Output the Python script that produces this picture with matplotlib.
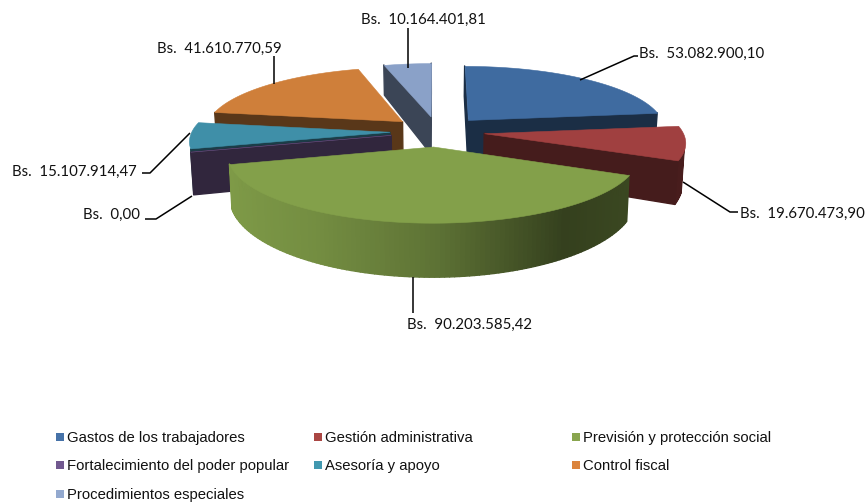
import numpy as np
import matplotlib
matplotlib.use("Agg")
import matplotlib.pyplot as plt
from matplotlib.collections import PolyCollection
from matplotlib.colors import to_rgb
from matplotlib.patches import Rectangle

categories = ["Gastos de los trabajadores", "Gestión administrativa",
              "Previsión y protección social", "Fortalecimiento del poder popular",
              "Asesoría y apoyo", "Control fiscal", "Procedimientos especiales"]
values = [53082900.10, 19670473.90, 90203585.42, 0.00,
          15107914.47, 41610770.59, 10164401.81]
top_colors = ["#3F6BA0", "#A04040", "#83A04A", "#71588F", "#3F8FA8", "#CF7F3A", "#8AA1C8"]
legend_colors = ["#4672A8", "#AA4643", "#89A54E", "#71588F", "#4198AF", "#DB843D", "#93A9CF"]
label_anchor = [(639, 53.5, "left"), (740, 213.5, "left"), (407, 324.5, "left"), (140, 214.5, "right"),
                (137, 171.5, "right"), (282, 48.5, "right"), (486, 19.5, "right")]
leader_paths = [[(580, 80), (634, 56), (638, 56)],
                [(683, 182), (730, 212), (738, 212)],
                [(413, 277), (413, 313)],
                [(192, 196), (156, 219), (145, 219)],
                [(190, 133), (150, 173), (142, 173)],
                [(274, 84), (274, 56)],
                [(408, 68), (408, 28)]]

CX, CY, A, B, K, D, EXPL = 437, 131, 198, 63, 0.12, 39.5, 0.24

def project(X, Y, bottom=False):
    s = 1 / (1 + K * Y)
    x = CX + A * X * s
    y = CY - B * Y * s
    if bottom:
        x = CX + (x - CX) * 0.988
        y = y + D * s ** 2
    return (x, y)

def shade(color, f):
    return tuple(c * f for c in to_rgb(color))

def area(p):
    p = np.array(p)
    return 0.5 * np.sum(p[:, 0] * np.roll(p[:, 1], -1) - np.roll(p[:, 0], -1) * p[:, 1])

fig = plt.figure(figsize=(8.68, 5.04), dpi=100)
ax = fig.add_axes([0, 0, 1, 1])
ax.set_xlim(0, 868)
ax.set_ylim(504, 0)
ax.axis("off")

fractions = np.array(values) / np.sum(values)
ends = np.cumsum(fractions) * 2 * np.pi
starts = ends - fractions * 2 * np.pi
mids = (starts + ends) / 2

order = np.argsort(-np.cos(mids))
for i in order:
    ox, oy = EXPL * np.sin(mids[i]), EXPL * np.cos(mids[i])
    n = max(2, int(np.degrees(ends[i] - starts[i]) * 0.8))
    th = np.linspace(starts[i], ends[i], n)
    outline = [(ox, oy)] + [(ox + np.sin(t), oy + np.cos(t)) for t in th]
    polys, cols = [], []
    m = len(outline)
    for j in range(m):
        a, b = outline[j], outline[(j + 1) % m]
        quad = [project(*a), project(*b), project(*b, True), project(*a, True)]
        if area(quad) < -1e-6:
            if j == 0 or j == m - 1:
                f = 0.43
            else:
                tm = (th[j - 1] + th[j]) / 2
                if np.cos(tm) > -0.25:
                    continue
                f = np.interp(np.sin(tm), [-1, -0.5, 0, 0.58, 1],
                              [0.97, 0.88, 0.72, 0.40, 0.46])
            polys.append(quad)
            cols.append(shade(top_colors[i], f))
    if polys:
        ax.add_collection(PolyCollection(polys, facecolors=cols, edgecolors=cols, linewidths=1.0))
    ax.add_collection(PolyCollection([[project(*p) for p in outline]],
                                     facecolors=[top_colors[i]], edgecolors=[top_colors[i]],
                                     linewidths=0.4))

def fmt(v):
    s = f"{v:,.2f}".replace(",", "X").replace(".", ",").replace("X", ".")
    return f"Bs.  {s}"

for v, (x, y, ha), path in zip(values, label_anchor, leader_paths):
    px, py = zip(*path)
    ax.plot(px, py, color="black", lw=1.1, solid_capstyle="butt", zorder=5)
    ax.text(x, y, fmt(v), ha=ha, va="center", family="Lato", fontsize=10.85, color="#111111")

leg_x = [56, 314, 572]
leg_y = [438, 466, 495]
for k, (name, col) in enumerate(zip(categories, legend_colors)):
    x, y = leg_x[k % 3], leg_y[k // 3]
    ax.add_patch(Rectangle((x, y - 5), 8, 8, facecolor=col, edgecolor="none"))
    ax.text(x + 11, y, name, ha="left", va="center", family="Liberation Sans",
            fontsize=10.7, color="#111111")

fig.savefig("out.png", dpi=100, facecolor="white")
